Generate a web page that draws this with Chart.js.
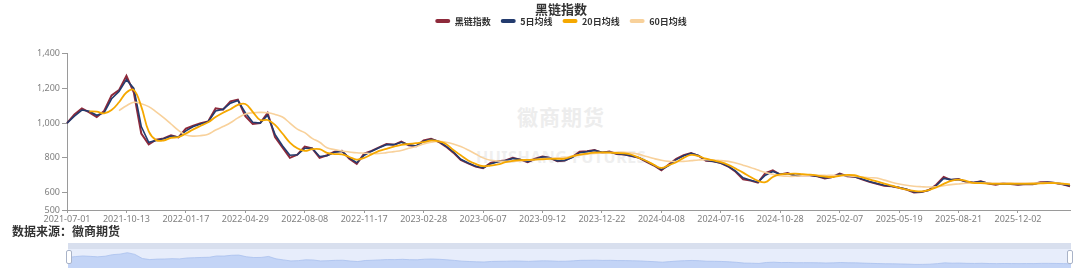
<!DOCTYPE html>
<html>
<head>
<meta charset="utf-8">
<script src="https://cdn.jsdelivr.net/npm/chart.js@4.4.1/dist/chart.umd.min.js"></script>
<style>
html,body{margin:0;padding:0;background:#fff;overflow:hidden;}
#wrap{position:relative;width:1080px;height:272px;overflow:hidden;font-family:'Noto Sans CJK SC','Noto Sans',sans-serif;}
#main{position:absolute;left:0;top:0;z-index:2;}
.wm{position:absolute;left:0;width:1122px;text-align:center;font-weight:bold;z-index:1;white-space:nowrap;}
#wm1{top:101px;font-size:21px;color:#ededed;letter-spacing:1px;}
#wm2{top:146px;font-size:16px;color:#efefef;letter-spacing:0.5px;font-family:'Noto Sans','DejaVu Sans',sans-serif;}
#source{position:absolute;left:12px;top:222px;font-size:12px;font-weight:bold;color:#333;z-index:3;white-space:nowrap;}
#zstrip{position:absolute;left:68px;top:243px;width:1003px;height:6px;background:#d8dfee;}
#zbody{position:absolute;left:68px;top:249px;width:1003px;height:19px;background:#e7edfb;}
#zcanvas{position:absolute;left:68px;top:249px;}
.hd{position:absolute;top:250px;width:4px;height:12px;background:#fff;border:1px solid #a9b3c8;border-radius:2px;z-index:4;}
</style>
</head>
<body>
<div id="wrap">
  <div class="wm" id="wm1">徽商期货</div>
  <div class="wm" id="wm2">HUISHANG FUTURES</div>
  <canvas id="main" width="1122" height="272"></canvas>
  <div id="source">数据来源：徽商期货</div>
  <div id="zstrip"></div>
  <div id="zbody"></div>
  <canvas id="zcanvas" width="1003" height="19"></canvas>
  <div class="hd" style="left:66px"></div>
  <div class="hd" style="left:1067px"></div>
</div>
<script>
const tickLabels = ['2021-07-01','2021-10-13','2022-01-17','2022-04-29','2022-08-08','2022-11-17','2023-02-28','2023-06-07','2023-09-12','2023-12-22','2024-04-08','2024-07-16','2024-10-28','2025-02-07','2025-05-19','2025-08-21','2025-12-02'];
const pointsPerLabel = 8;
const pointCount = 136;
const categories = Array.from({length: pointCount}, (_, i) => (i % pointsPerLabel === 0 && tickLabels[i / pointsPerLabel]) ? tickLabels[i / pointsPerLabel] : '');

const yTicks = [500, 600, 800, 1000, 1200, 1400];

const heiLian = [
1000,1050,1085,1062,1035,1070,1160,1190,1272,1175,
940,878,905,912,930,918,968,985,1000,1010,
1085,1078,1125,1135,1040,995,1000,1058,920,860,
800,818,865,855,800,815,835,840,795,765,
825,840,860,880,875,893,872,867,900,910,
893,865,830,788,768,750,740,771,780,785,
800,790,775,795,808,800,780,785,805,835,
838,845,830,836,822,819,810,800,777,756,
728,762,795,815,828,812,783,780,770,750,
720,677,670,657,712,728,704,712,696,702,
700,694,682,690,710,694,692,676,662,651,
640,636,628,618,601,603,615,645,690,672,
678,662,657,665,652,646,654,650,646,650,
648,660,660,655,648,636];

const ma5 = [
1000,1040,1075,1068,1045,1060,1140,1182,1250,1200,
980,890,900,910,925,920,955,980,995,1008,
1070,1080,1115,1130,1060,1005,1000,1045,935,870,
815,818,855,855,808,812,832,838,800,772,
815,838,858,876,876,890,875,868,895,907,
895,868,835,792,770,752,742,765,778,784,
797,790,778,792,806,801,783,785,802,830,
836,843,832,834,824,819,811,801,780,758,
732,755,790,812,826,814,786,780,771,752,
724,685,671,660,700,722,706,710,698,701,
700,695,684,689,706,696,691,678,664,652,
642,637,629,619,604,604,613,640,682,675,
676,664,658,663,654,648,652,650,647,649,
648,657,659,656,649,640];

const ma20 = [
null,null,null,1068,1066,1056,1075,1120,1176,1190,
1095,952,902,900,915,920,940,964,985,1005,
1035,1060,1080,1105,1110,1065,1018,1018,990,940,
888,855,840,850,850,829,822,820,805,790,
800,820,840,852,865,875,880,885,890,900,
895,880,845,815,785,765,752,756,762,775,
783,787,788,790,792,794,794,795,808,818,
825,830,832,830,828,826,818,800,782,760,
742,758,775,800,817,810,795,785,775,760,
738,715,690,668,660,690,705,708,709,706,
703,698,692,690,697,702,700,688,676,665,
652,640,628,617,610,607,615,630,650,668,
675,668,656,655,652,650,650,651,650,650,
651,653,655,655,652,646];

const ma60 = [
null,null,null,null,null,null,null,1072,1100,1120,
1112,1095,1065,1032,995,958,932,925,928,936,
960,980,1002,1030,1052,1060,1062,1060,1050,1035,
1000,965,945,912,890,858,848,840,834,829,
827,825,825,830,836,842,855,866,880,890,
896,890,880,865,845,822,800,786,782,780,
780,782,786,790,795,798,800,803,810,816,
821,825,828,830,832,832,828,820,808,796,
786,780,779,780,784,788,790,788,784,780,
770,758,745,730,716,705,698,694,694,697,
702,700,699,699,698,697,694,690,686,684,
672,660,650,642,637,634,632,634,640,646,
650,654,655,655,655,655,655,655,655,655,
655,655,655,655,652,650];

const seriesNames = ['黑链指数', '5日均线', '20日均线', '60日均线'];
const seriesColors = ['#8e2a3b', '#233b6e', '#f5a800', '#f8d19b'];

const legendGap = {
  id: 'legendGap',
  beforeLayout(chart) {
    const lg = chart.legend;
    if (lg && !lg._gapPatched) {
      const fit = lg.fit;
      lg.fit = function () { fit.call(this); this.height += 18; };
      lg._gapPatched = true;
    }
  }
};

const axisFont = {size: 9, family: "'Noto Sans','Liberation Sans',sans-serif"};
const axisColor = '#9a9a9a';

new Chart(document.getElementById('main'), {
  type: 'line',
  data: {
    labels: categories,
    datasets: [
      {label: seriesNames[0], data: heiLian, borderColor: seriesColors[0], backgroundColor: seriesColors[0], borderWidth: 2, pointRadius: 0, tension: 0, order: 4},
      {label: seriesNames[1], data: ma5, borderColor: seriesColors[1], backgroundColor: seriesColors[1], borderWidth: 1.6, pointRadius: 0, tension: 0, order: 3},
      {label: seriesNames[2], data: ma20, borderColor: seriesColors[2], backgroundColor: seriesColors[2], borderWidth: 1.8, pointRadius: 0, tension: 0.4, order: 1},
      {label: seriesNames[3], data: ma60, borderColor: seriesColors[3], backgroundColor: seriesColors[3], borderWidth: 1.6, pointRadius: 0, tension: 0.4, order: 2}
    ]
  },
  options: {
    responsive: false,
    animation: false,
    devicePixelRatio: 1,
    layout: {padding: {top: 0, left: 0, right: 0, bottom: 48}},
    plugins: {
      tooltip: {enabled: false},
      title: {
        display: true, text: '黑链指数', color: '#333',
        font: {size: 13, weight: 'bold', family: "'Noto Sans CJK SC',sans-serif"},
        padding: {top: 1, bottom: -10}
      },
      legend: {
        display: true, position: 'top', align: 'center',
        labels: {
          boxWidth: 15, boxHeight: 4, padding: 10, color: '#333',
          useBorderRadius: true, borderRadius: 2,
          font: {size: 9, weight: 'bold', family: "'Noto Sans CJK SC',sans-serif"},
          sort: (a, b) => a.datasetIndex - b.datasetIndex,
          generateLabels: (chart) => Chart.defaults.plugins.legend.labels.generateLabels(chart).map(l => Object.assign(l, {lineWidth: 0}))
        }
      }
    },
    scales: {
      x: {
        type: 'category', offset: false,
        afterBuildTicks: (s) => { s.ticks = s.ticks.filter(t => t.value % pointsPerLabel === 0); },
        afterFit: (s) => { s.height = 14; },
        grid: {display: true, drawOnChartArea: false, drawTicks: true, tickLength: 3, color: axisColor},
        border: {display: true, color: axisColor, width: 1},
        ticks: {autoSkip: false, maxRotation: 0, minRotation: 0, padding: 1, color: '#808080', font: axisFont}
      },
      y: {
        position: 'left',
        min: 500, max: 1400,
        afterBuildTicks: (s) => { s.ticks = yTicks.map(v => ({value: v})); },
        afterFit: (s) => { s.width = 67; },
        grid: {display: true, drawOnChartArea: false, drawTicks: true, tickLength: 5, color: axisColor},
        border: {display: true, color: axisColor, width: 1},
        ticks: {padding: 2, color: '#808080', font: axisFont, callback: (v) => Number(v).toLocaleString('en-US')}
      },
      spacer: {
        type: 'linear', position: 'right', display: true,
        grid: {display: false}, border: {display: false}, ticks: {display: false},
        afterFit: (s) => { s.width = 52; }
      }
    }
  },
  plugins: [legendGap]
});

new Chart(document.getElementById('zcanvas'), {
  type: 'line',
  data: {
    labels: categories,
    datasets: [{data: heiLian, borderColor: '#a9c0ee', borderWidth: 0.8, backgroundColor: 'rgba(150,182,240,0.45)', fill: 'start', pointRadius: 0, tension: 0}]
  },
  options: {
    responsive: false, animation: false, devicePixelRatio: 1,
    layout: {padding: 0},
    plugins: {legend: {display: false}, title: {display: false}, tooltip: {enabled: false}},
    scales: {
      x: {display: false, offset: false},
      y: {display: false, min: 396, max: 1484}
    }
  }
});
</script>
</body>
</html>
